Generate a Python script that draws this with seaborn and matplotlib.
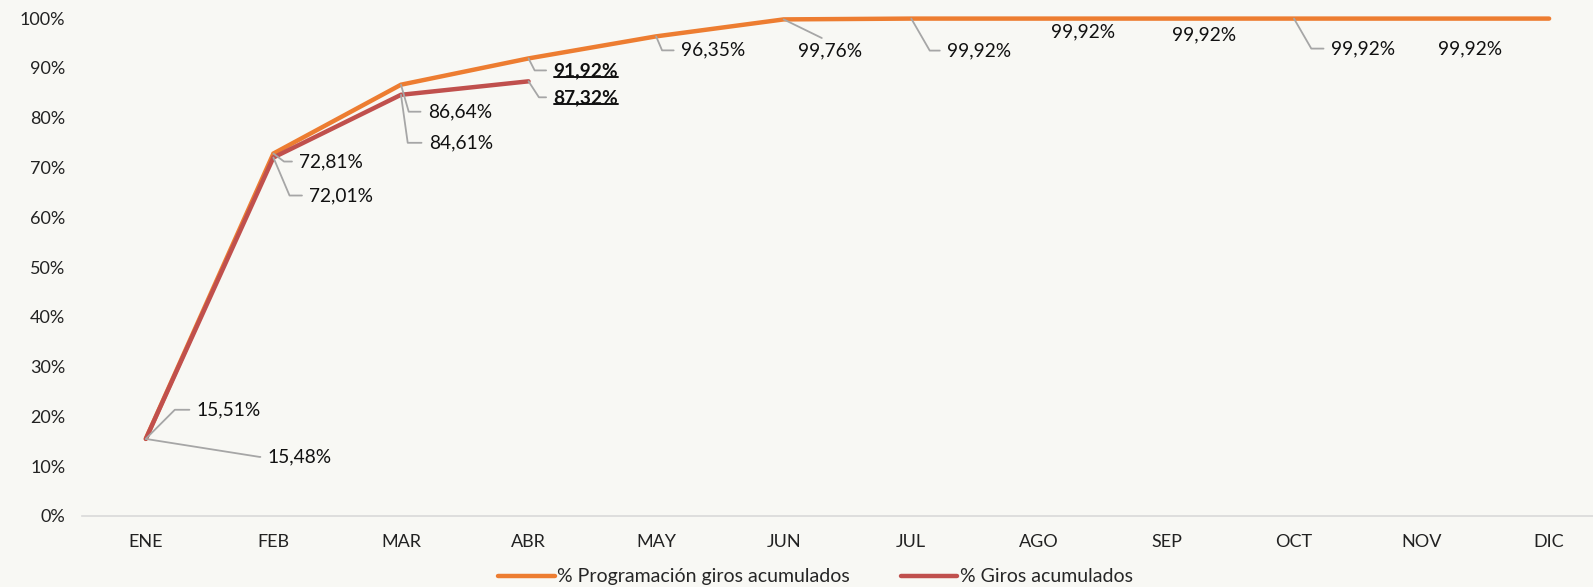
import seaborn as sns
import matplotlib.pyplot as plt
import matplotlib.text as mtext
import pandas as pd
from matplotlib.lines import Line2D
from matplotlib.ticker import PercentFormatter

months = ["ENE", "FEB", "MAR", "ABR", "MAY", "JUN", "JUL", "AGO", "SEP", "OCT", "NOV", "DIC"]
programacion = [15.51, 72.81, 86.64, 91.92, 96.35, 99.76, 99.92, 99.92, 99.92, 99.92, 99.92, 99.92]
giros = [15.48, 72.01, 84.61, 87.32]
serie_prog = "% Programación giros acumulados"
serie_giros = "% Giros acumulados"

BG = "#F8F8F4"
ORANGE = "#ED7D31"
RED = "#C0504D"
LEADER = "#A6A6A6"

sns.set_style("white")
plt.rcParams["font.family"] = ["Lato", "DejaVu Sans"]

df = pd.concat([
    pd.DataFrame({"mes": months, "valor": [v / 100 for v in programacion], "serie": serie_prog}),
    pd.DataFrame({"mes": months[:len(giros)], "valor": [v / 100 for v in giros], "serie": serie_giros}),
])

fig = plt.figure(figsize=(15.93, 5.87), dpi=100, facecolor=BG)
ax = fig.add_axes([0.0515, 0.121, 0.961, 0.848], facecolor=BG)

sns.lineplot(data=df, x="mes", y="valor", hue="serie", palette=[ORANGE, RED],
             sort=False, lw=3.2, ax=ax, legend=False)

ax.set_xlim(-0.5, 11.5)
ax.set_ylim(0, 1)
ax.set_yticks([i / 10 for i in range(11)])
ax.yaxis.set_major_formatter(PercentFormatter(1.0, decimals=0))
ax.set_xlabel("")
ax.set_ylabel("")
for s in ["top", "right", "left"]:
    ax.spines[s].set_visible(False)
ax.spines["bottom"].set_color("#D9D9D9")
ax.spines["bottom"].set_linewidth(1.2)
ax.tick_params(axis="both", length=0, labelsize=13, colors="#222222")
ax.tick_params(axis="x", pad=13)
ax.tick_params(axis="y", pad=12)
for line in ax.lines:
    line.set_clip_on(False)
    line.set_solid_joinstyle("miter")

# Data labels: (serie, index, dx, dy in pixels, leader angle or None)
labels = [
    (programacion, 0, 51, -29, 45),
    (giros, 0, 122, 18, -9),
    (programacion, 1, 26, 8, -37),
    (giros, 1, 36, 38, -67),
    (programacion, 2, 27, 27, -74),
    (giros, 2, 28, 48, -82),
    (programacion, 3, 25, 12, -63),
    (giros, 3, 25, 16, -57),
    (programacion, 4, 25, 14, -67),
    (programacion, 5, 14, 31, "straight"),
    (programacion, 6, 36, 32, -60),
    (programacion, 7, 12, 13, None),
    (programacion, 8, 6, 16, None),
    (programacion, 9, 37, 30, -60),
    (programacion, 10, 16, 30, None),
]

px = 0.72
bold_texts = []
for serie, i, dx, dy, ang in labels:
    val = serie[i]
    txt = f"{val:.2f}%".replace(".", ",")
    bold = i == 3
    kw = dict(xy=(i, val / 100), xytext=(dx * px, -dy * px), textcoords="offset points",
              ha="left", va="center", fontsize=13.8, color="#111111",
              fontweight="bold" if bold else "normal", annotation_clip=False)
    if ang == "straight":
        kw["arrowprops"] = dict(arrowstyle="-", color=LEADER, lw=1.3, relpos=(0.5, 1),
                                shrinkA=1, shrinkB=0)
    elif ang is not None:
        kw["arrowprops"] = dict(arrowstyle="-", color=LEADER, lw=1.3, relpos=(0, 0.5),
                                shrinkA=3, shrinkB=0,
                                connectionstyle=f"angle,angleA=0,angleB={ang},rad=0")
    t = ax.annotate(txt, **kw)
    if bold:
        bold_texts.append(t)

handles = [Line2D([], [], color=ORANGE, lw=3.2), Line2D([], [], color=RED, lw=3.2)]
fig.legend(handles, [serie_prog, serie_giros], loc="lower center", ncol=2,
           bbox_to_anchor=(0.512, -0.027), frameon=False, fontsize=14,
           handlelength=2.9, handletextpad=0.15, columnspacing=2.6)

# underline the bold labels of the last reported month
fig.canvas.draw()
renderer = fig.canvas.get_renderer()
inv = fig.transFigure.inverted()
for t in bold_texts:
    bb = mtext.Text.get_window_extent(t, renderer).transformed(inv)
    fig.add_artist(Line2D([bb.x0, bb.x1], [bb.y0 + 0.003, bb.y0 + 0.003],
                          color="#111111", lw=1.4))

fig.savefig("out.png", dpi=100, facecolor=BG)
